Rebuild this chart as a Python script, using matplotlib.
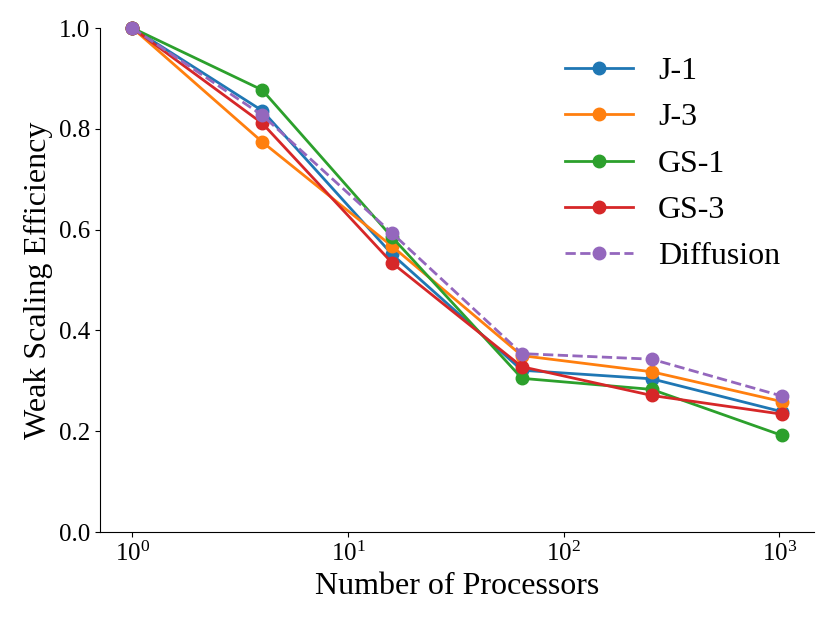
import numpy as np
import matplotlib
matplotlib.use('Agg')
import matplotlib.pyplot as plt

plt.rcParams['font.family'] = 'serif'
plt.rcParams['font.serif'] = ['Liberation Serif', 'DejaVu Serif']
plt.rcParams['mathtext.fontset'] = 'stix'

# Data
procs = [1, 4, 16, 64, 256, 1024]
j1 = [1.0, 0.836, 0.551, 0.321, 0.304, 0.239]
j3 = [1.0, 0.774, 0.567, 0.350, 0.318, 0.259]
gs1 = [1.0, 0.877, 0.585, 0.305, 0.283, 0.192]
gs3 = [1.0, 0.811, 0.534, 0.328, 0.271, 0.234]
diffusion = [1.0, 0.827, 0.593, 0.354, 0.343, 0.270]

series = [('J-1', j1, '-'), ('J-3', j3, '-'), ('GS-1', gs1, '-'),
          ('GS-3', gs3, '-'), ('Diffusion', diffusion, '--')]
colors = ['#1f77b4', '#ff7f0e', '#2ca02c', '#d62728', '#9467bd']

fig = plt.figure(figsize=(8.3, 6.23), dpi=100)
ax = fig.add_axes([0.1205, 0.146, 0.8602, 0.809])

for (name, vals, ls), c in zip(series, colors):
    ax.plot(procs, vals, linestyle=ls, marker='o', color=c, linewidth=2,
            markersize=9, label=name, clip_on=False)

ax.set_xscale('log')
ax.set_ylim(0, 1.0)
ax.set_yticks([0.0, 0.2, 0.4, 0.6, 0.8, 1.0])
ax.set_yticklabels(['0.0', '0.2', '0.4', '0.6', '0.8', '1.0'])
ax.xaxis.set_minor_locator(matplotlib.ticker.NullLocator())

ax.spines['top'].set_visible(False)
ax.spines['right'].set_visible(False)
ax.tick_params(labelsize=18)

ax.set_xlabel('Number of Processors', fontsize=23)
ax.set_ylabel('Weak Scaling Efficiency', fontsize=23)

ax.legend(fontsize=23, frameon=False, handlelength=2.1, labelspacing=0.53,
          loc='upper right', bbox_to_anchor=(0.993, 1.0))

plt.savefig('out.png', dpi=100)
